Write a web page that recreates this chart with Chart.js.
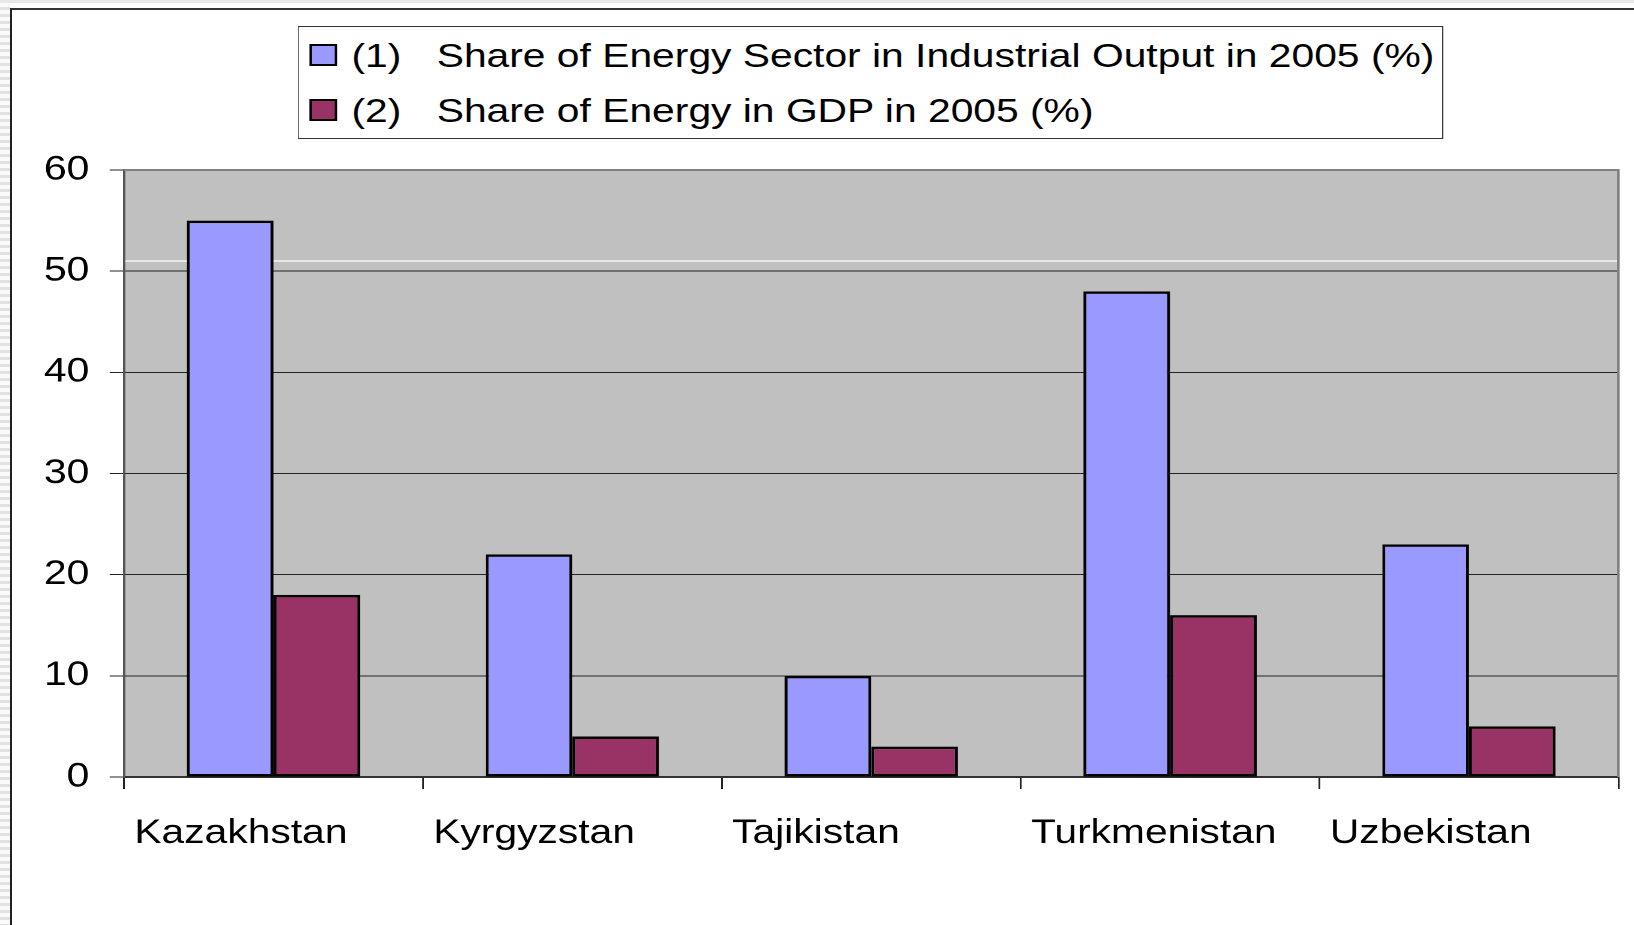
<!DOCTYPE html>
<html>
<head>
<meta charset="utf-8">
<script src="https://cdn.jsdelivr.net/npm/chart.js@4.4.1/dist/chart.umd.min.js"></script>
<style>
  html, body { margin: 0; padding: 0; width: 1634px; height: 925px; overflow: hidden; background: #fff; }
  #stripes { position: absolute; left: 0; top: 0; width: 10px; height: 925px;
    background: repeating-linear-gradient(to bottom, #e2e2e2 0 3px, #fafafa 3px 7px); }
  #topband { position: absolute; left: 0; top: 0; width: 1634px; height: 3px; background: #e8e8e8; }
  #frame { position: absolute; left: 10px; top: 8px; right: 0; bottom: 0; background: #fff;
    border-left: 2px solid #222; border-top: 2px solid #333; }
  /* the original picture is stretched horizontally, so is the stage */
  #stage { position: absolute; left: 0; top: 0; width: 1362px; height: 925px;
    transform: scaleX(1.19971); transform-origin: 0 0; }
  #chart { position: absolute; left: 0; top: 0; }
  #legend { position: absolute; left: 248px; top: 26px; width: 955px; height: 113px; box-sizing: border-box;
    border: 1px solid #333; background: #fff; font: 34px "Liberation Sans", Arial, sans-serif; color: #000; }
  .row { position: absolute; left: 0; height: 40px; line-height: 40px; white-space: nowrap; }
  .mark { position: absolute; left: 9px; top: 9px; width: 23px; height: 22px; box-sizing: border-box; border: 2px solid #000; }
  .tag { position: absolute; left: 44px; }
  .name { position: absolute; left: 115px; }
</style>
</head>
<body>
<div id="stripes"></div>
<div id="topband"></div>
<div id="frame"></div>
<div id="stage">
  <canvas id="chart" width="1362" height="925"></canvas>
  <div id="legend"></div>
</div>
<script>
const categories = ['Kazakhstan', 'Kyrgyzstan', 'Tajikistan', 'Turkmenistan', 'Uzbekistan'];
const industryShare = [55, 22, 10, 48, 23];
const gdpShare = [18, 4, 3, 16, 5];
const seriesNames = ['Share of Energy Sector in Industrial Output in 2005 (%)', 'Share of Energy in GDP in 2005 (%)'];
const seriesTags = ['(1)', '(2)'];
const seriesColors = ['#9999FF', '#993366'];
const yTicks = [0, 10, 20, 30, 40, 50, 60];

const FONT = '"Liberation Sans", Arial, sans-serif';

// grey plot area, grey top/right edge, and the faint white line seen above 50
const plotFrame = {
  id: 'plotFrame',
  beforeDraw(chart) {
    const { ctx, chartArea: a } = chart;
    ctx.save();
    ctx.fillStyle = '#C0C0C0';
    ctx.fillRect(a.left, a.top, a.right - a.left, a.bottom - a.top);
    ctx.restore();
  },
  beforeDatasetsDraw(chart) {
    const { ctx, chartArea: a, scales } = chart;
    const y = scales.y.getPixelForValue(51);
    ctx.save();
    ctx.strokeStyle = '#f4f4f4';
    ctx.lineWidth = 1.5;
    ctx.beginPath();
    ctx.moveTo(a.left + 1, y);
    ctx.lineTo(a.right, y);
    ctx.stroke();
    ctx.restore();
  },
  afterDraw(chart) {
    const { ctx, chartArea: a } = chart;
    ctx.save();
    ctx.strokeStyle = '#808080';
    ctx.lineWidth = 2;
    ctx.beginPath();
    ctx.moveTo(a.left, a.top);
    ctx.lineTo(a.right, a.top);
    ctx.lineTo(a.right, a.bottom);
    ctx.stroke();
    ctx.restore();
  }
};

const datasets = [industryShare, gdpShare].map((vals, i) => ({
  label: seriesNames[i],
  data: vals,
  backgroundColor: seriesColors[i],
  borderColor: '#000',
  borderWidth: 2.5,
  borderSkipped: false,
  categoryPercentage: 0.58,
  barPercentage: 1.0
}));

const chart = new Chart(document.getElementById('chart'), {
  type: 'bar',
  data: { labels: categories, datasets: datasets },
  plugins: [plotFrame],
  options: {
    responsive: false,
    maintainAspectRatio: false,
    devicePixelRatio: 2,
    animation: false,
    layout: { padding: { left: 0, right: 13, top: 170, bottom: 0 } },
    plugins: {
      legend: { display: false },
      tooltip: { enabled: false }
    },
    scales: {
      x: {
        grid: { display: true, drawOnChartArea: false, drawTicks: true, tickLength: 12, color: '#222', lineWidth: 1.5 },
        border: { display: true, color: '#333', width: 2 },
        ticks: {
          align: 'start',
          labelOffset: -116,
          padding: 24,
          color: '#000',
          font: { family: FONT, size: 34 }
        },
        afterFit(scale) {
          scale.height = 148;
          scale.paddingLeft = 0;
          scale.paddingRight = 0;
        }
      },
      y: {
        min: yTicks[0],
        max: yTicks[yTicks.length - 1],
        grid: { color: '#222', lineWidth: 1, drawTicks: true, tickLength: 12 },
        border: { display: true, color: '#555', width: 2 },
        ticks: {
          stepSize: yTicks[1] - yTicks[0],
          padding: 17,
          color: '#000',
          font: { family: FONT, size: 34 }
        },
        afterFit(scale) {
          scale.width = 103.4;
        }
      }
    }
  }
});

// legend box built from the datasets
const legend = document.getElementById('legend');
const rowTops = [8, 62.5];
chart.data.datasets.forEach((ds, i) => {
  const row = document.createElement('div');
  row.className = 'row';
  row.style.top = rowTops[i] + 'px';
  row.style.width = '100%';
  const mark = document.createElement('span');
  mark.className = 'mark';
  mark.style.background = ds.backgroundColor;
  const tag = document.createElement('span');
  tag.className = 'tag';
  tag.textContent = seriesTags[i];
  const name = document.createElement('span');
  name.className = 'name';
  name.textContent = ds.label;
  row.append(mark, tag, name);
  legend.appendChild(row);
});
</script>
</body>
</html>
